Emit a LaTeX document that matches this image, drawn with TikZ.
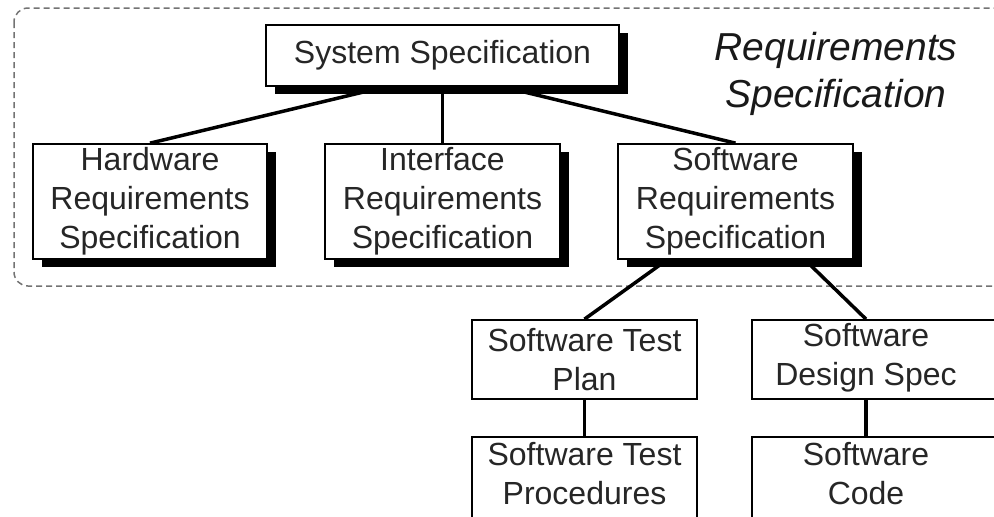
\documentclass[tikz,border=0pt]{standalone}
\usepackage{fontspec}
\setmainfont{Liberation Sans}
\usetikzlibrary{shadows,backgrounds}
\begin{document}
\begin{tikzpicture}[x=1pt,y=-1pt,
  boxtxt/.style={font=\fontsize{32}{39}\selectfont, text=black!85, align=center},
  box/.style={boxtxt, draw=black, line width=1.7pt, fill=white, inner sep=0pt},
  shbox/.style={box, drop shadow={shadow xshift=9pt, shadow yshift=-8pt, opacity=1, fill=black}},
  lbl/.style={boxtxt, inner sep=0pt},
  conn/.style={line width=3.5pt, black},
  region/.style={draw=black!55, line width=1.5pt, dash pattern=on 6pt off 4pt, rounded corners=14pt}
]
\useasboundingbox (0,0) rectangle (994,517);
\clip (0,0) rectangle (994,517);

% boxes with shadow
\node[shbox, minimum width=353pt, minimum height=61pt] (sys) at (442.5,55.5) {System Specification};
\node[shbox, minimum width=234pt, minimum height=115pt] (hw) at (150,201.5) {Hardware\\Requirements\\Specification};
\node[shbox, minimum width=235pt, minimum height=115pt] (iface) at (442.5,201.5) {Interface\\Requirements\\Specification};
\node[shbox, minimum width=235pt, minimum height=115pt] (srs) at (735.5,201.5) {Software\\Requirements\\Specification};

% lower boxes
\node[box, minimum width=225pt, minimum height=79pt] (tp) at (584.5,359.5) {Software Test\\Plan};
\node[box, minimum width=258pt, minimum height=79pt] (ds) at (881,359.5) {};
\node[lbl] (dstext) at (866,358) {Software\\Design Spec};
\node[box, minimum width=225pt, minimum height=100pt, anchor=north] (tproc) at (584.5,436) {};
\node[lbl] (tproctext) at (584.5,474) {Software Test\\Procedures};
\node[box, minimum width=258pt, minimum height=100pt, anchor=north] (code) at (881,436) {};
\node[lbl] (codetext) at (866,474) {Software\\Code};

% title
\node[font=\fontsize{39}{47}\selectfont\itshape, text=black!90, align=center, inner sep=0pt] (title) at (836,74) {Requirements\\Specification};

\begin{scope}[on background layer]
  \draw[region] (14,8) rectangle (1010,286);
  \draw[conn] ([xshift=-57.5pt]sys.south) -- (hw.north);
  \draw[conn] (sys.south) -- (iface.north);
  \draw[conn] ([xshift=60.5pt]sys.south) -- (srs.north);
  \draw[conn] ([xshift=-68.5pt]srs.south) -- (tp.north);
  \draw[conn] ([xshift=69.5pt]srs.south) -- (dstext.north |- ds.north);
  \draw[conn] (tp.south) -- (tproc.north);
  \draw[conn] (dstext.south |- ds.south) -- (dstext.south |- code.north);
\end{scope}
\end{tikzpicture}
\end{document}
